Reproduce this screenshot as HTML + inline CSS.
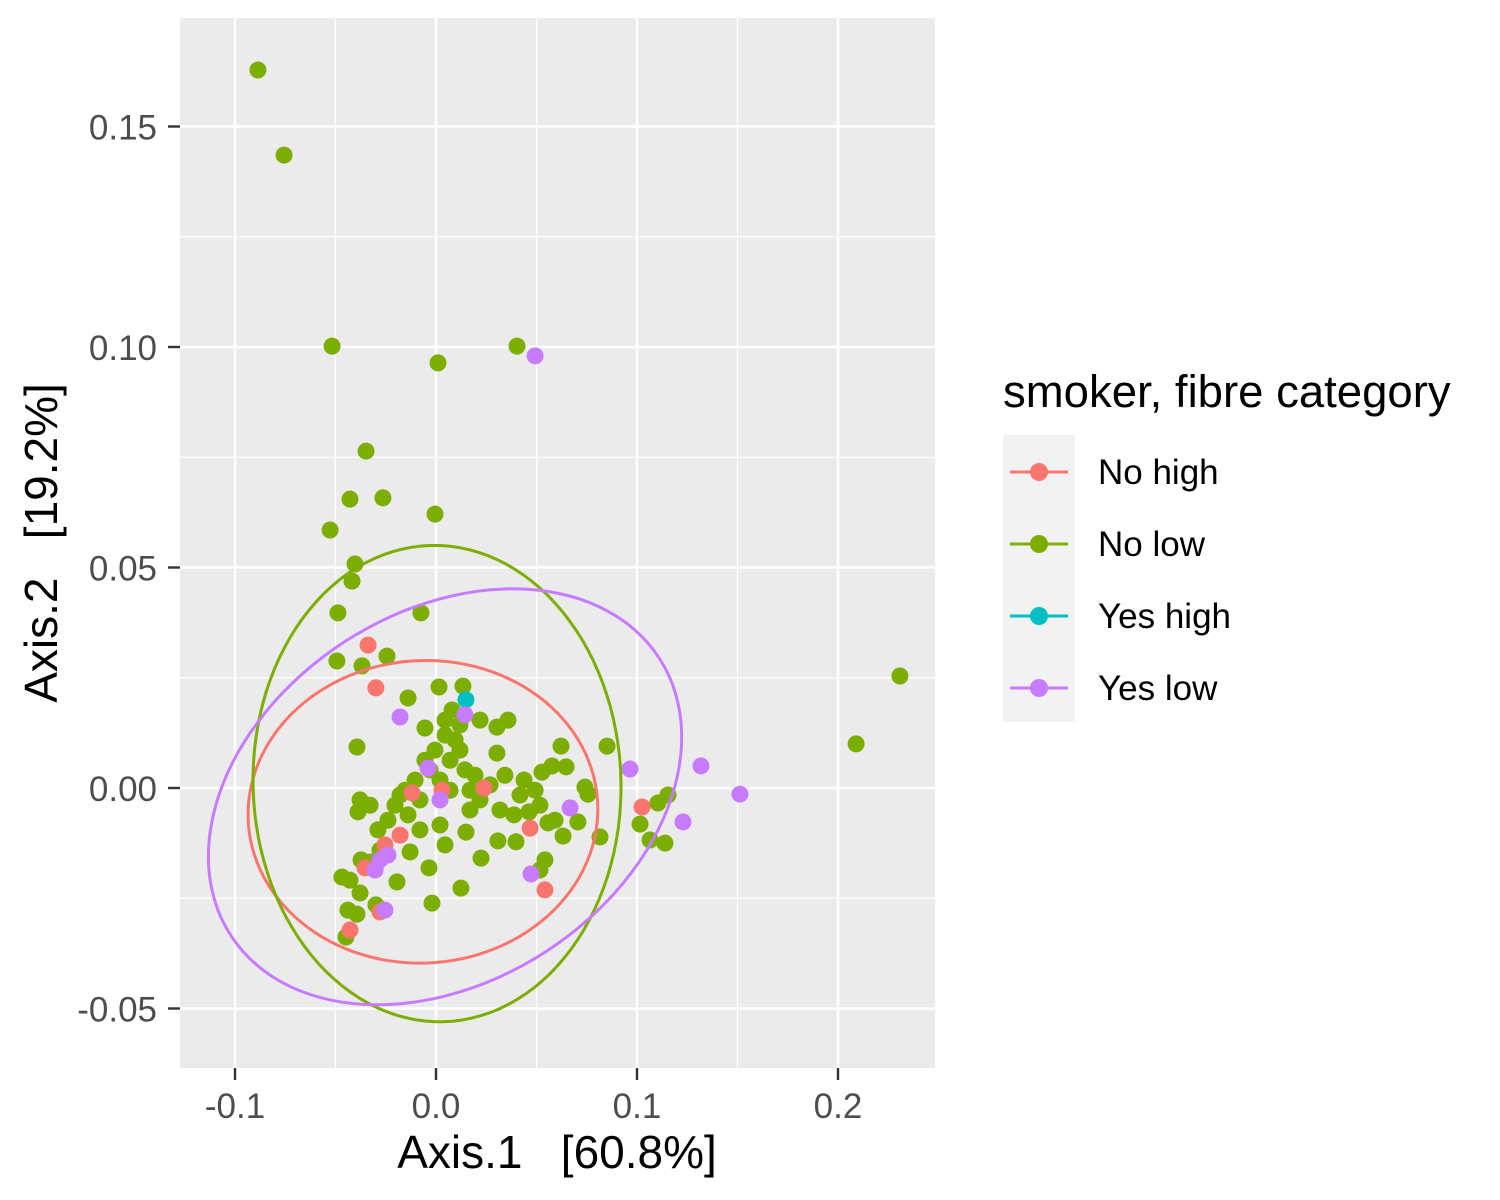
<!DOCTYPE html>
<html><head><meta charset="utf-8"><style>
body{margin:0;background:#fff;}
svg{display:block;font-family:"Liberation Sans",Arial,sans-serif;}
</style></head><body>
<svg id="chart" width="1500" height="1200">
<rect x="180" y="18" width="755" height="1050" fill="#ebebeb"/>
<g id="grid"></g><g id="marks"></g><g id="axes"></g>
<text x="557" y="1168" font-size="46" text-anchor="middle">Axis.1&#160;&#160;&#160;[60.8%]</text>
<text transform="translate(57,543) rotate(-90)" font-size="46" text-anchor="middle">Axis.2&#160;&#160;&#160;[19.2%]</text>
<g>
<text x="1003" y="407" font-size="45.5">smoker, fibre category</text>
<rect x="1003" y="435" width="72" height="287" fill="#f2f2f2"/>
<g id="legend"></g>
</g>
</svg>
<script>
const NS="http://www.w3.org/2000/svg";
const xTicks=[-0.1,0,0.1,0.2];
const xTickLabels=["-0.1","0.0","0.1","0.2"];
const yTicks=[0.15,0.10,0.05,0,-0.05];
const yTickLabels=["0.15","0.10","0.05","0.00","-0.05"];
const xMinor=[-0.05,0.05,0.15];
const yMinor=[0.125,0.075,0.025,-0.025];
const groups=["No high","No low","Yes high","Yes low"];
const colors=["#f8766d","#7cae00","#00bfc4","#c77cff"];
const noLowX=[-0.0886,-0.0756,-0.0517,0.0403,0.001,-0.0348,-0.0428,-0.0264,-0.0005,-0.0527,-0.0403,-0.0418,-0.0488,-0.0075,-0.0493,-0.0368,-0.0244,-0.0139,0.0015,0.0134,0.2308,0.209,-0.0393,-0.0055,0.0219,0.0358,0.0303,0.0303,0.0622,0.0851,0.0577,0.0647,0.0438,0.0527,0.0741,0.0756,0.1154,0.1104,0.1015,0.1065,0.1139,0.0816,0.0706,0.0632,0.0557,0.0388,0.0463,0.0398,0.0308,0.0224,0.0149,0.0124,-0.002,-0.0035,0.0045,-0.0129,-0.0194,-0.0279,-0.0328,-0.0373,-0.0428,-0.0468,-0.0378,-0.0299,-0.0438,-0.0393,-0.0448,-0.0378,-0.0388,-0.0328,-0.0179,-0.008,0.007,0.002,-0.003,0.007,0.0119,0.0095,0.0045,0.0119,0.008,0.0045,-0.0005,-0.0055,0.0169,0.0219,0.0269,0.0343,-0.0104,-0.0154,-0.0204,-0.0239,-0.0289,-0.0139,-0.008,0.002,0.0169,0.0318,0.0418,0.0517,0.0592,0.0194,0.0144,0.0493,0.0542,0.0517];
const noLowY=[0.1628,0.1435,0.1002,0.1002,0.0964,0.0764,0.0655,0.0658,0.0621,0.0585,0.0508,0.0469,0.0397,0.0397,0.0288,0.0277,0.0299,0.0204,0.0229,0.0231,0.0254,0.01,0.0093,0.0136,0.0154,0.0154,0.0138,0.0079,0.0095,0.0095,0.005,0.0048,0.0018,0.0036,0.0002,-0.0014,-0.0016,-0.0034,-0.0082,-0.0118,-0.0125,-0.0111,-0.0077,-0.0109,-0.0079,-0.0061,-0.0054,-0.0122,-0.012,-0.0159,-0.01,-0.0227,-0.0261,-0.0181,-0.0129,-0.0145,-0.0213,-0.0141,-0.0168,-0.0163,-0.0209,-0.0202,-0.0238,-0.0265,-0.0277,-0.0286,-0.0338,-0.0027,-0.0054,-0.0039,-0.0016,-0.0027,-0.0005,0.0018,0.0041,0.0063,0.0086,0.0109,0.012,0.0143,0.0177,0.0154,0.0086,0.0063,-0.0005,-0.0027,0.0007,0.0029,0.0018,-0.0005,-0.0039,-0.0073,-0.0095,-0.0061,-0.0095,-0.0084,-0.005,-0.005,-0.0016,-0.0039,-0.0073,0.0029,0.0041,-0.0005,-0.0163,-0.0186];
const noHighX=[-0.0338,-0.0299,-0.0119,0.003,0.0239,0.0468,0.0542,0.1025,-0.0428,-0.0353,-0.0254,-0.0179,-0.0279];
const noHighY=[0.0324,0.0227,-0.0011,-0.0005,0,-0.0091,-0.0231,-0.0043,-0.0322,-0.0181,-0.0129,-0.0107,-0.0281];
const yesHighX=[0.0149];
const yesHighY=[0.020];
const yesLowX=[0.0493,-0.0179,-0.004,0.0144,0.0965,0.1318,0.1512,0.1229,0.0667,0.0473,-0.0254,-0.0279,-0.0239,-0.0303,0.002];
const yesLowY=[0.098,0.0161,0.0045,0.0166,0.0043,0.005,-0.0014,-0.0077,-0.0045,-0.0195,-0.0277,-0.0163,-0.0152,-0.0186,-0.0027];
const ellNoHigh=[-0.0065,-0.0054, 0.087,0.001, -0.001,0.0343];
const ellNoLow=[0.0005,0.001, 0.0915,0.001, -0.003,0.054];
const ellYesLow=[0.0045,-0.002, 0.1065,0.0315, 0.0502,-0.0351];

const X=v=>436+v*2010;
const Y=v=>788-v*4410;
function mk(tag,attrs,parent){const e=document.createElementNS(NS,tag);for(const k in attrs)e.setAttribute(k,attrs[k]);parent.appendChild(e);return e;}
const grid=document.getElementById('grid'),marks=document.getElementById('marks'),axes=document.getElementById('axes'),leg=document.getElementById('legend');
xMinor.forEach(v=>{const l=mk('line',{x1:X(v),x2:X(v),y1:18,y2:1068,stroke:'#fff','stroke-width':1.2},grid);

});
yMinor.forEach(v=>{const l=mk('line',{x1:180,x2:935,y1:Y(v),y2:Y(v),stroke:'#fff','stroke-width':1.2},grid);

});
xTicks.forEach((v,i)=>{const l=mk('line',{x1:X(v),x2:X(v),y1:18,y2:1068,stroke:'#fff','stroke-width':2.4},grid);


const t=mk('line',{x1:X(v),x2:X(v),y1:1068,y2:1080,stroke:'#333','stroke-width':2.4},axes);


const tx=mk('text',{x:X(v),y:1118,'font-size':35,fill:'#4d4d4d','text-anchor':'middle'},axes);tx.textContent=xTickLabels[i];

});
yTicks.forEach((v,i)=>{const l=mk('line',{x1:180,x2:935,y1:Y(v),y2:Y(v),stroke:'#fff','stroke-width':2.4},grid);


const t=mk('line',{x1:168,x2:180,y1:Y(v),y2:Y(v),stroke:'#333','stroke-width':2.4},axes);


const tx=mk('text',{x:157,y:Y(v)+13,'font-size':35,fill:'#4d4d4d','text-anchor':'end'},axes);tx.textContent=yTickLabels[i];

});
function pts(xs,ys,col,name){xs.forEach((x,i)=>{const c=mk('circle',{cx:X(x),cy:Y(ys[i]),r:8.5,fill:col},marks);

});}
pts(noLowX,noLowY,colors[1],'point-no-low');
pts(noHighX,noHighY,colors[0],'point-no-high');
pts(yesHighX,yesHighY,colors[2],'point-yes-high');
pts(yesLowX,yesLowY,colors[3],'point-yes-low');
function ell(e,col,name){let d='';for(let k=0;k<=120;k++){const t=k/120*2*Math.PI;const x=e[0]+e[2]*Math.cos(t)+e[4]*Math.sin(t);const y=e[1]+e[3]*Math.cos(t)+e[5]*Math.sin(t);d+=(k?'L':'M')+X(x).toFixed(1)+','+Y(y).toFixed(1);}
const p=mk('path',{d:d+'Z',fill:'none',stroke:col,'stroke-width':3},marks);

}
ell(ellNoHigh,colors[0],'ellipse-no-high');
ell(ellNoLow,colors[1],'ellipse-no-low');
ell(ellYesLow,colors[3],'ellipse-yes-low');
groups.forEach((g,i)=>{const y=472+i*72;
const l=mk('line',{x1:1010,x2:1068,y1:y,y2:y,stroke:colors[i],'stroke-width':3},leg);


const c=mk('circle',{cx:1039,cy:y,r:9,fill:colors[i]},leg);


const t=mk('text',{x:1098,y:y+12,'font-size':35,fill:'#000'},leg);t.textContent=g;

});
</script>
</body></html>
